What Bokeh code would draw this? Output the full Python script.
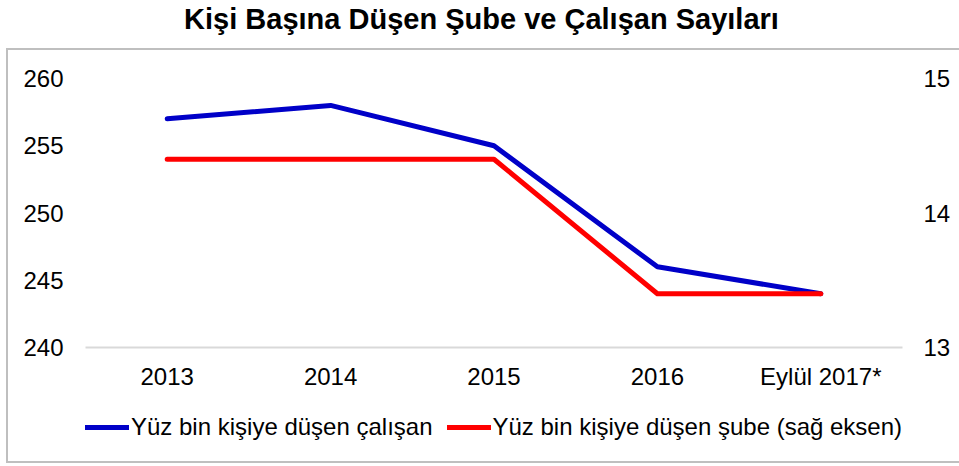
from bokeh.plotting import figure
from bokeh.models import Range1d, LinearAxis, FixedTicker, Legend, LegendItem, Div, FactorRange
from bokeh.layouts import column
from bokeh.embed import file_html
from bokeh.resources import INLINE

title_text = "Kişi Başına Düşen Şube ve Çalışan Sayıları"
categories = ["2013", "2014", "2015", "2016", "Eylül 2017*"]
calisan = [257, 258, 255, 246, 244]          # left axis
sube = [14.4, 14.4, 14.4, 13.4, 13.4]        # right axis
left_ticks = [240, 245, 250, 255, 260]
right_ticks = [13, 14, 15]
label_calisan = "Yüz bin kişiye düşen çalışan"
label_sube = "Yüz bin kişiye düşen şube (sağ eksen)"

FONT = "Liberation Sans"
FS = "24px"
BLUE = "#0000C8"
RED = "#FF0000"
BORDER = "2px solid #BFBFBF"

div = Div(
    text=f'<div style="font-family:\'{FONT}\';font-weight:bold;font-size:29px;'
         f'text-align:center;width:963px;line-height:38px;padding-top:0px;color:#000">{title_text}</div>',
    width=959, height=48, margin=(0, 0, 0, 0),
)

xr = FactorRange(*categories, range_padding=0)

# ---- main chart ----
p = figure(
    x_range=xr, y_range=Range1d(240, 260),
    width=953, height=350,
    output_backend="svg", toolbar_location=None,
    min_border_left=77, min_border_right=59, min_border_top=28, min_border_bottom=53,
    margin=(0, 0, 0, 6),
    styles={"border-left": BORDER, "border-top": BORDER},
)
p.outline_line_color = None
p.xgrid.grid_line_color = None
p.ygrid.grid_line_color = None
p.border_fill_color = "white"

p.extra_y_ranges = {"right": Range1d(13, 15)}
raxis = LinearAxis(y_range_name="right", ticker=FixedTicker(ticks=right_ticks))
p.add_layout(raxis, "right")

for ax in [p.yaxis[0], raxis]:
    ax.axis_line_color = None
    ax.major_tick_line_color = None
    ax.minor_tick_line_color = None
    ax.major_tick_out = 0
    ax.major_tick_in = 0
    ax.minor_tick_out = 0
    ax.major_label_text_font = FONT
    ax.major_label_text_font_size = FS
    ax.major_label_text_color = "black"
p.yaxis[0].ticker = FixedTicker(ticks=left_ticks)
p.yaxis[0].major_label_standoff = 22
raxis.major_label_standoff = 21

xa = p.xaxis[0]
xa.axis_line_color = "#D9D9D9"
xa.axis_line_width = 2
xa.major_tick_line_color = None
xa.minor_tick_line_color = None
xa.major_tick_out = 0
xa.major_tick_in = 0
xa.major_label_text_font = FONT
xa.major_label_text_font_size = FS
xa.major_label_text_color = "black"
xa.major_label_standoff = 15

p.line(categories, calisan, line_color=BLUE, line_width=5, line_cap="round", line_join="round")
p.line(categories, sube, line_color=RED, line_width=5, line_cap="round", line_join="round",
       y_range_name="right")

# ---- legend strip (same series, plotted outside its view; only the legend shows) ----
q = figure(
    x_range=xr, y_range=Range1d(0, 1),
    width=953, height=65,
    output_backend="svg", toolbar_location=None,
    min_border_left=0, min_border_right=0, min_border_top=0, min_border_bottom=0,
    margin=(0, 0, 0, 6),
    styles={"border-left": BORDER, "border-bottom": BORDER},
)
q.xaxis.visible = False
q.yaxis.visible = False
q.xgrid.grid_line_color = None
q.ygrid.grid_line_color = None
q.outline_line_color = None
q1 = q.line(categories, calisan, line_color=BLUE, line_width=5, line_cap="round")
q2 = q.line(categories, sube, line_color=RED, line_width=5, line_cap="round")

legend = Legend(items=[LegendItem(label=label_calisan, renderers=[q1]),
                       LegendItem(label=label_sube, renderers=[q2])],
                orientation="horizontal", location=(0, 22),
                label_text_font=FONT, label_text_font_size=FS, label_text_color="black",
                glyph_width=44, glyph_height=20, label_standoff=2, spacing=14,
                padding=0, margin=0, border_line_color=None, background_fill_alpha=0)
q.add_layout(legend, "center")

layout = column(div, p, q, spacing=0)
open("out.html", "w").write(file_html(layout, INLINE))
